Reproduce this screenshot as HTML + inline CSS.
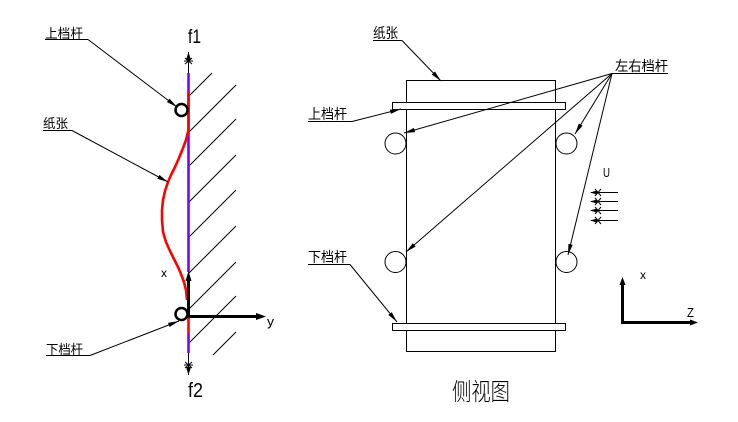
<!DOCTYPE html>
<html><head><meta charset="utf-8"><style>
html,body{margin:0;padding:0;background:#fff;}
svg{display:block;}
text{font-family:"Liberation Sans","Noto Sans CJK SC",sans-serif;fill:#000;}
</style></head><body>
<svg width="738" height="422" viewBox="0 0 738 422" xmlns="http://www.w3.org/2000/svg">
<defs>
<marker id="ah" markerUnits="userSpaceOnUse" markerWidth="12" markerHeight="6" refX="11" refY="3" orient="auto">
<path d="M0,0.8 L11,3 L0,5.2 z" fill="#000"/>
</marker>
<marker id="ahs" markerUnits="userSpaceOnUse" markerWidth="9" markerHeight="6" refX="8" refY="3" orient="auto">
<path d="M0,0.5 L8,3 L0,5.5 z" fill="#000"/>
</marker>
</defs>

<!-- LEFT DIAGRAM -->
<g stroke="#000" stroke-width="1">
<line x1="188" y1="97" x2="212" y2="73"/>
<line x1="188" y1="133" x2="236" y2="85"/>
<line x1="188" y1="167" x2="236" y2="119"/>
<line x1="188" y1="203" x2="236" y2="155"/>
<line x1="188" y1="238" x2="236" y2="190"/>
<line x1="188" y1="274" x2="236" y2="226"/>
<line x1="188" y1="310" x2="236" y2="262"/>
<line x1="188" y1="344" x2="236" y2="296"/>
<line x1="213" y1="355" x2="236" y2="332"/>
</g>
<line x1="188.5" y1="73" x2="188.5" y2="272" stroke="#8000ff" stroke-width="2.6"/>
<line x1="188.5" y1="333" x2="188.5" y2="353" stroke="#8000ff" stroke-width="2.6"/>
<line x1="188.5" y1="316" x2="188.5" y2="333" stroke="#ff0000" stroke-width="2.6"/>
<polyline fill="none" stroke="#ff0000" stroke-width="2.6" stroke-linejoin="round" points="188.5,92 188.5,130 186,140 183,148 179,158 175,167 171,175 168,182 165,191 163,200 162,210 162,220 163,232 166,242 170,251 174,259 178,267 181,274 184,282 186,290 187,300"/>
<line x1="188.5" y1="73" x2="188.5" y2="52" stroke="#000" stroke-width="1" marker-end="url(#ahs)"/>
<path d="M185,58 L192,64 M192,58 L185,64 M184,61 L193,61" stroke="#000" stroke-width="1"/>
<line x1="188.5" y1="353" x2="188.5" y2="375" stroke="#000" stroke-width="1" marker-end="url(#ahs)"/>
<path d="M185,362 L192,368 M192,362 L185,368 M184,365 L193,365" stroke="#000" stroke-width="1"/>
<text x="188" y="43" font-size="19" textLength="13" lengthAdjust="spacingAndGlyphs">f1</text>
<text x="188" y="397" font-size="20" textLength="15" lengthAdjust="spacingAndGlyphs">f2</text>
<line x1="188.5" y1="316" x2="188.5" y2="278" stroke="#000" stroke-width="3"/>
<path d="M185.5,281 L188.5,271 L191.5,281 z" fill="#000"/>
<line x1="188" y1="316.5" x2="258" y2="316.5" stroke="#000" stroke-width="3"/>
<path d="M256,313 L266,316.5 L256,320 z" fill="#000"/>
<text x="267" y="326" font-size="13" textLength="7" lengthAdjust="spacingAndGlyphs">y</text>
<text x="161" y="277" font-size="12" textLength="6" lengthAdjust="spacingAndGlyphs">x</text>
<circle cx="181.5" cy="110" r="6" fill="none" stroke="#000" stroke-width="2.5"/>
<circle cx="181.5" cy="314" r="6" fill="none" stroke="#000" stroke-width="2.5"/>
<text x="45" y="38" font-size="13" textLength="38" lengthAdjust="spacingAndGlyphs">上档杆</text>
<line x1="45" y1="39.5" x2="88" y2="39.5" stroke="#000" stroke-width="1"/>
<line x1="88" y1="39.5" x2="177" y2="107" stroke="#000" stroke-width="1" marker-end="url(#ah)"/>
<text x="43" y="128" font-size="13" textLength="25" lengthAdjust="spacingAndGlyphs">纸张</text>
<line x1="43" y1="130.5" x2="72" y2="130.5" stroke="#000" stroke-width="1"/>
<line x1="72" y1="130.5" x2="168" y2="182" stroke="#000" stroke-width="1" marker-end="url(#ah)"/>
<text x="46" y="354" font-size="13" textLength="37" lengthAdjust="spacingAndGlyphs">下档杆</text>
<line x1="46" y1="355.5" x2="90" y2="355.5" stroke="#000" stroke-width="1"/>
<line x1="90" y1="355.5" x2="179" y2="321" stroke="#000" stroke-width="1" marker-end="url(#ah)"/>

<!-- RIGHT DIAGRAM -->
<rect x="406.5" y="80.5" width="149" height="271" fill="none" stroke="#000" stroke-width="1"/>
<rect x="392.5" y="102.5" width="173" height="7" fill="#fff" stroke="#000" stroke-width="1"/>
<rect x="392.5" y="323.5" width="173" height="7" fill="#fff" stroke="#000" stroke-width="1"/>
<g fill="#fff" stroke="#000" stroke-width="1">
<circle cx="395.5" cy="143.5" r="10.5"/>
<circle cx="566.5" cy="143.5" r="10.5"/>
<circle cx="395.5" cy="262" r="10.5"/>
<circle cx="566.5" cy="262" r="10.5"/>
</g>
<line x1="406.5" y1="130" x2="406.5" y2="156" stroke="#000" stroke-width="1"/>
<line x1="406.5" y1="250" x2="406.5" y2="274" stroke="#000" stroke-width="1"/>
<line x1="555.5" y1="130" x2="555.5" y2="156" stroke="#000" stroke-width="1"/>
<line x1="555.5" y1="250" x2="555.5" y2="274" stroke="#000" stroke-width="1"/>
<text x="373" y="38" font-size="14" textLength="25" lengthAdjust="spacingAndGlyphs">纸张</text>
<line x1="373" y1="40.5" x2="402" y2="40.5" stroke="#000" stroke-width="1"/>
<line x1="402" y1="40.5" x2="441" y2="81" stroke="#000" stroke-width="1" marker-end="url(#ah)"/>
<text x="308" y="119" font-size="14" textLength="39" lengthAdjust="spacingAndGlyphs">上档杆</text>
<line x1="308" y1="121.5" x2="352" y2="121.5" stroke="#000" stroke-width="1"/>
<line x1="352" y1="121.5" x2="401" y2="109" stroke="#000" stroke-width="1" marker-end="url(#ah)"/>
<text x="308" y="262" font-size="14" textLength="39" lengthAdjust="spacingAndGlyphs">下档杆</text>
<line x1="308" y1="264.5" x2="350" y2="264.5" stroke="#000" stroke-width="1"/>
<line x1="350" y1="264.5" x2="397" y2="322" stroke="#000" stroke-width="1" marker-end="url(#ah)"/>
<text x="615" y="71" font-size="14" textLength="53" lengthAdjust="spacingAndGlyphs">左右档杆</text>
<line x1="612" y1="73.5" x2="668" y2="73.5" stroke="#000" stroke-width="1"/>
<g stroke="#000" stroke-width="1">
<line x1="612" y1="73.5" x2="404" y2="133" marker-end="url(#ah)"/>
<line x1="612" y1="73.5" x2="406" y2="252" marker-end="url(#ah)"/>
<line x1="612" y1="73.5" x2="575" y2="134" marker-end="url(#ah)"/>
<line x1="612" y1="73.5" x2="568" y2="255" marker-end="url(#ah)"/>
</g>
<text x="603" y="177" font-size="13" textLength="7" lengthAdjust="spacingAndGlyphs">U</text>
<g stroke="#000" stroke-width="1">
<line x1="591" y1="192.5" x2="618" y2="192.5"/>
<line x1="591" y1="201.5" x2="618" y2="201.5"/>
<line x1="591" y1="210.5" x2="618" y2="210.5"/>
<line x1="591" y1="220.5" x2="618" y2="220.5"/>
<path d="M595,189 L601,196 M601,189 L595,196 M595,198 L601,205 M601,198 L595,205 M595,207 L601,214 M601,207 L595,214 M595,217 L601,224 M601,217 L595,224"/>
</g>
<g fill="#000">
<path d="M590,192.5 L597,190.5 L597,194.5 z"/>
<path d="M590,201.5 L597,199.5 L597,203.5 z"/>
<path d="M590,210.5 L597,208.5 L597,212.5 z"/>
<path d="M590,220.5 L597,218.5 L597,222.5 z"/>
</g>
<line x1="622.5" y1="323" x2="622.5" y2="282" stroke="#000" stroke-width="3"/>
<path d="M619.5,285 L622.5,277 L625.5,285 z" fill="#000"/>
<line x1="621" y1="322.5" x2="692" y2="322.5" stroke="#000" stroke-width="3"/>
<path d="M690,319.5 L698,322.5 L690,325.5 z" fill="#000"/>
<text x="640" y="279" font-size="12" textLength="6" lengthAdjust="spacingAndGlyphs">x</text>
<text x="687" y="317" font-size="13" textLength="7" lengthAdjust="spacingAndGlyphs">Z</text>
<text x="452" y="400" font-size="24" textLength="58" lengthAdjust="spacingAndGlyphs" style="font-family:'Noto Sans CJK SC',sans-serif;font-weight:300">侧视图</text>
</svg>
</body></html>
